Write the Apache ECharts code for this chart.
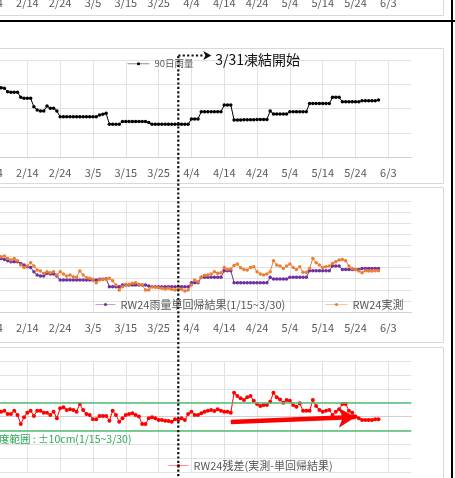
<!DOCTYPE html>
<html>
<head>
<meta charset="utf-8">
<script src="https://cdn.jsdelivr.net/npm/echarts@6/dist/echarts.min.js"></script>
<style>
html,body{margin:0;padding:0;background:#fff;}
#main{width:455px;height:478px;}
</style>
</head>
<body>
<div id="main"></div>
<script>
// 日付軸 1/25 ~ 6/10 (2024)
var days = [];
for (var i = 0; i < 138; i++) {
  var dt = new Date(2024, 0, 25 + i);
  days.push((dt.getMonth() + 1) + '/' + dt.getDate());
}
var firstIdx = 12;   // 2/6 からのデータ
var freezeIdx = 66;  // 3/31 凍結開始

// 90日雨量
var rain90 = [286,283,269,267,267,267,246,242,242,242,
  207,194,190,190,210,201,201,190,
  166,166,166,166,166,166,166,166,166,166,166,166,
  173,176,180,
  135,135,135,135,
  146,146,146,146,146,146,146,146,
  142,
  135,135,135,135,135,135,135,135,135,135,135,135,
  157,157,157,
  187,187,187,187,187,187,187,
  214,214,214,
  153,153,153,154,154,154,154,155,155,155,155,
  190,
  177,177,177,177,177,
  187,187,187,187,187,187,
  221,221,221,221,221,221,221,
  246,246,246,
  228,228,228,228,228,228,
  232,232,232,232,232,
  235];

// RW24 雨量単回帰結果
var rwReg = [48.3,47.4,46.2,45.3,45.3,45.3,43.8,42.3,40.8,40.2,
  36.3,33.3,32.4,32.4,34.8,34.2,34.2,32.4,
  28.8,28.8,28.8,28.8,28.8,28.8,28.8,28.8,28.8,28.8,28.8,28.8,
  29.4,29.4,30.0,
  22.8,22.8,22.8,22.8,
  24.3,24.3,24.3,24.3,24.3,24.3,24.3,24.3,
  23.4,
  22.8,22.8,22.8,22.8,22.8,22.8,22.8,22.8,22.8,22.8,22.8,22.8,
  26.4,26.4,26.4,
  31.2,31.2,31.2,31.2,31.2,31.2,31.2,
  37.2,37.2,37.2,
  26.4,26.4,26.4,26.4,26.4,26.4,26.4,26.4,26.4,26.4,26.4,
  31.2,
  29.7,29.7,29.7,29.7,29.7,
  31.2,31.2,31.2,31.2,31.2,31.2,
  37.2,37.2,37.2,37.2,37.2,37.2,37.2,
  41.4,41.4,41.4,
  38.4,38.4,38.4,38.4,38.4,38.4,
  39.3,39.3,39.3,39.3,39.3,
  39.3];

// RW24 実測
var rwObs = [49.8,50.4,48.3,46.8,48.3,46.2,42.3,40.2,41.4,44.4,
  41.4,37.8,36.9,34.8,36.3,35.4,36.3,33.3,36.3,34.2,
  32.4,33.3,31.8,31.2,36.9,33.3,30.9,30.3,29.4,26.4,
  28.8,29.4,29.4,30.3,28.2,24.3,19.8,22.8,24.9,24.9,
  25.8,26.4,24.9,24.3,19.8,19.8,22.8,22.2,21.9,21.3,
  20.7,21.3,20.4,19.8,21.0,20.4,18.9,19.8,24.3,28.8,
  27.3,31.2,33.0,33.3,34.2,36.3,34.8,35.4,40.2,38.4,
  38.7,42.0,43.2,39.9,38.4,37.8,40.2,40.8,36.3,34.2,
  33.3,34.2,36.3,46.2,42.3,41.4,39.3,41.4,43.2,40.2,
  38.4,40.8,35.7,35.7,39.3,48.3,44.4,42.3,40.2,40.8,
  41.4,43.8,45.3,46.8,47.4,46.2,41.4,39.3,38.4,36.9,
  35.4,37.2,36.9,36.9,37.2,37.2];

// RW24 残差 (実測-単回帰結果)
var rwRes = [3.5,4.2,1.8,1.8,4.2,1.1,-5.4,-0.6,2.7,4.2,
  0.4,4.2,4.2,2.7,2.7,1.1,3.5,-1.3,5.9,6.6,
  4.7,5.2,4.7,3.5,9.0,4.7,1.8,1.1,-2.0,-2.0,
  0.4,0.4,0.4,-3.0,4.2,1.1,-3.7,-1.3,1.1,1.8,
  2.3,1.1,0.0,-5.4,-5.4,-1.3,-0.6,-1.3,-2.5,-2.5,
  -3.0,-3.2,-3.7,-2.0,-2.5,-1.3,-2.5,1.8,3.5,1.1,
  1.1,2.3,3.5,4.2,4.7,3.9,5.2,4.2,3.5,3.5,
  2.7,17.1,14.7,13.1,11.9,13.8,14.7,11.4,9.0,7.5,
  8.3,8.3,10.7,17.1,13.8,12.3,9.9,11.9,11.4,8.3,
  7.1,9.5,4.2,4.2,4.2,11.9,7.5,4.7,3.5,4.2,
  4.7,1.1,3.5,5.2,9.0,9.0,4.2,2.7,0.0,-1.3,
  -2.5,-2.5,-2.5,-2.5,-2.0,-2.0];

var bandHi = 10, bandLo = -10;
var arrowFrom = [82, -4.0], arrowTo = [120, -0.4];

function pairs(arr) {
  return arr.map(function (v, i) { return [firstIdx + i, v]; });
}

var FONT = "'Noto Sans CJK JP', sans-serif";
var every10 = function (i) { return i % 10 === 0; };

function mkX(gi) {
  return {
    type: 'category', gridIndex: gi, data: days, boundaryGap: false,
    axisLine: { show: true, lineStyle: { color: '#d0d0d0', width: 1 } },
    axisTick: { show: false },
    axisLabel: { interval: every10, color: '#595959', fontSize: 11, margin: 10, fontFamily: FONT },
    splitLine: { show: true, interval: every10, lineStyle: { color: '#e2e2e2', width: 1 } }
  };
}
function mkY(gi, mn, mx, step) {
  return {
    type: 'value', gridIndex: gi, min: mn, max: mx, interval: step,
    axisLine: { show: false }, axisTick: { show: false }, axisLabel: { show: false },
    splitLine: { show: true, lineStyle: { color: '#e2e2e2', width: 1 } }
  };
}
function mkGrid(top, h) {
  return { left: -38.3, right: 43.7, top: top, height: h, containLabel: false, outerBoundsMode: 'none' };
}
function mkLine(name, arr, color, xi, size) {
  return {
    name: name, type: 'line', xAxisIndex: xi, yAxisIndex: xi, data: pairs(arr),
    symbol: 'circle', symbolSize: size, showSymbol: true, showAllSymbol: true,
    lineStyle: { color: color, width: 1 }, itemStyle: { color: color },
    animation: false, silent: true
  };
}
function mkLegend(name, left, top, fs, iw) {
  return {
    data: [name], left: left, top: top, padding: 0, itemWidth: iw, itemHeight: 4, itemGap: 3,
    lineStyle: { width: 1, opacity: 0.45 },
    textStyle: { color: '#595959', fontSize: fs, fontFamily: FONT }, selectedMode: false
  };
}

var chart = echarts.init(document.getElementById('main'));
var resSeries = mkLine('RW24残差(実測-単回帰結果)', rwRes, '#ff0000', 3, 4);
resSeries.markLine = {
  silent: true, symbol: ['none', 'none'], animation: false,
  label: { show: false },
  data: [
    { yAxis: bandHi, lineStyle: { color: '#4fbf72', width: 1.5, type: 'solid' } },
    { yAxis: bandLo, lineStyle: { color: '#4fbf72', width: 1.5, type: 'solid' } },
    [
      { coord: arrowFrom, symbol: 'none', lineStyle: { color: '#ff0000', width: 4.5, type: 'solid' } },
      { coord: arrowTo, symbol: 'arrow', symbolSize: [15, 17] }
    ]
  ]
};

chart.setOption({
  backgroundColor: '#fff',
  animation: false,
  grid: [mkGrid(-121, 108), mkGrid(60, 97), mkGrid(201, 111), mkGrid(361, 111)],
  xAxis: [mkX(0), mkX(1), mkX(2), mkX(3)],
  yAxis: [mkY(0, 0, 400, 100), mkY(1, 0, 400, 100), mkY(2, 0, 100, 10), mkY(3, -40, 40, 10)],
  legend: [
    mkLegend('90日雨量', 127, 59, 9.5, 22),
    mkLegend('RW24雨量単回帰結果(1/15~3/30)', 95, 299, 11, 20),
    mkLegend('RW24実測', 325, 299, 11, 22),
    mkLegend('RW24残差(実測-単回帰結果)', 168, 460, 11, 20)
  ],
  series: [
    mkLine('90日雨量', rain90, '#000000', 1, 3.5),
    mkLine('RW24雨量単回帰結果(1/15~3/30)', rwReg, '#7030a0', 2, 3.5),
    mkLine('RW24実測', rwObs, '#ed7d31', 2, 3.5),
    resSeries
  ]
});

// 凍結開始ライン・枠
var fx = chart.convertToPixel({ xAxisIndex: 1 }, freezeIdx);
var panel = function (y0, y1) {
  return { type: 'rect', silent: true, z: 1, shape: { x: -20, y: y0, width: 463.5, height: y1 - y0 },
    style: { fill: 'none', stroke: '#d9d9d9', lineWidth: 1 } };
};
chart.setOption({
  graphic: [
    panel(-60, 15.5), panel(48.5, 183.5), panel(187.5, 342.5), panel(347.5, 520),
    { type: 'line', silent: true, z: 50, shape: { x1: 0, y1: 21, x2: 455, y2: 21 }, style: { stroke: '#000', lineWidth: 2 } },
    { type: 'line', silent: true, z: 50, shape: { x1: 452, y1: 0, x2: 452, y2: 478 }, style: { stroke: '#000', lineWidth: 2 } },
    { type: 'line', silent: true, z: 60, shape: { x1: fx, y1: 56, x2: fx, y2: 478 },
      style: { stroke: '#111', lineWidth: 2.2, lineDash: [2.2, 2.2] } },
    { type: 'line', silent: true, z: 60, shape: { x1: fx, y1: 55.5, x2: fx + 26, y2: 55.5 },
      style: { stroke: '#111', lineWidth: 2.2, lineDash: [2.2, 2.2] } },
    { type: 'polygon', silent: true, z: 60, shape: { points: [[fx + 25, 51], [fx + 33, 55.5], [fx + 25, 60], [fx + 27, 55.5]] },
      style: { fill: '#111' } },
    { type: 'text', silent: true, z: 60, x: fx + 37, y: 60,
      style: { text: '3/31凍結開始', fill: '#111', font: "14px 'Noto Sans CJK JP'", textVerticalAlign: 'middle' } },
    { type: 'text', silent: true, z: 60, x: -1, y: 439,
      style: { text: '度範囲 : ±10cm(1/15~3/30)', fill: '#2ea85a', font: "10.5px 'Noto Sans CJK JP'", textVerticalAlign: 'middle' } }
  ]
});
</script>
</body>
</html>
